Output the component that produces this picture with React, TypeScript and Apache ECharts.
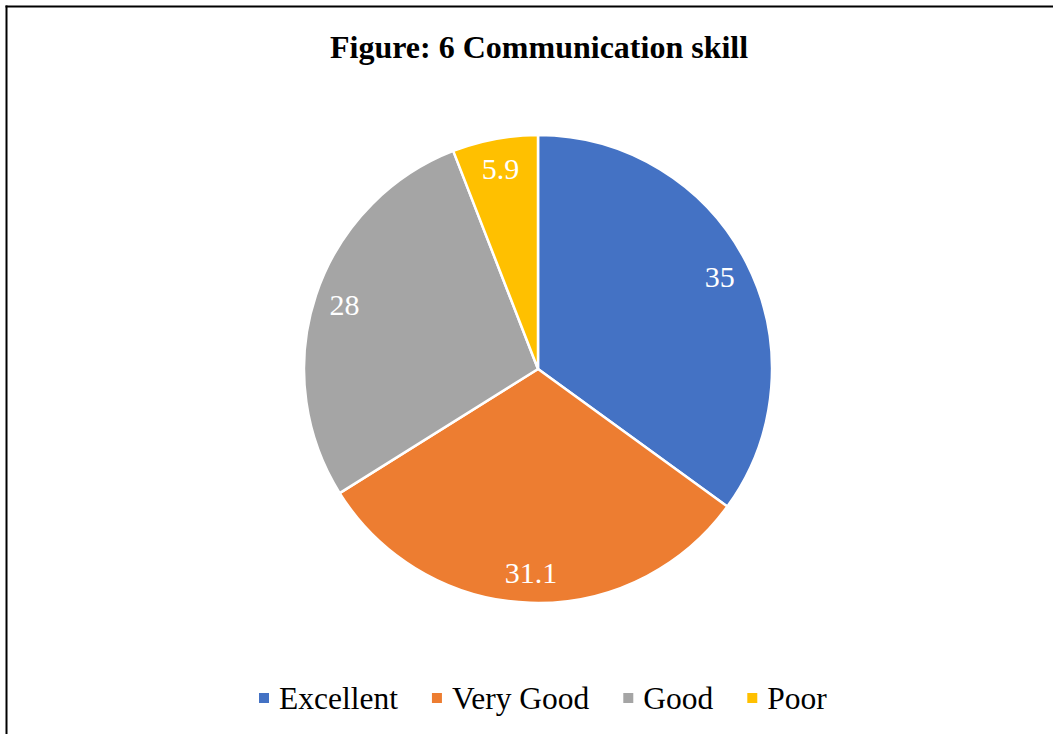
import React, { useEffect, useRef } from "react";
import * as echarts from "echarts";

const categories = ["Excellent", "Very Good", "Good", "Poor"];
const values = [35, 31.1, 28, 5.9];
const colors = ["#4472C4", "#ED7D31", "#A5A5A5", "#FFC000"];
const titleText = "Figure: 6 Communication skill";

const FONT = "Liberation Serif";

export default function App() {
  const ref = useRef<HTMLDivElement>(null);
  useEffect(() => {
    document.body.style.margin = "0";
    if (!ref.current) return;
    const chart = echarts.init(ref.current, undefined, { renderer: "svg" });
    const data = categories.map((name, i) => ({
      name,
      value: values[i],
      itemStyle: { color: colors[i] },
    }));
    chart.setOption({
      animation: false,
      backgroundColor: "#ffffff",
      textStyle: { fontFamily: FONT },
      title: {
        text: titleText,
        left: 325,
        top: 26,
        textStyle: {
          fontFamily: FONT,
          fontWeight: "bold",
          fontSize: 32,
          color: "#000000",
        },
      },
      legend: {
        data: categories,
        left: 252,
        top: 677,
        icon: "rect",
        itemWidth: 12,
        itemHeight: 12,
        itemGap: 32,
        textStyle: {
          fontFamily: FONT,
          fontSize: 31.5,
          color: "#000000",
          padding: [0, 0, 0, 4],
        },
      },
      graphic: [
        {
          type: "line",
          shape: { x1: 5.5, y1: 6.5, x2: 1053, y2: 6.5 },
          style: { stroke: "#000000", lineWidth: 2 },
        },
        {
          type: "line",
          shape: { x1: 6.5, y1: 5.5, x2: 6.5, y2: 734 },
          style: { stroke: "#000000", lineWidth: 2 },
        },
      ],
      series: [
        {
          type: "pie",
          center: [538, 369],
          radius: [0, 234],
          startAngle: 90,
          clockwise: true,
          silent: true,
          label: { show: false },
          labelLine: { show: false },
          itemStyle: { borderColor: "#ffffff", borderWidth: 2.5 },
          data,
        },
        {
          type: "pie",
          center: [538, 369],
          radius: [168, 234],
          startAngle: 90,
          clockwise: true,
          silent: true,
          itemStyle: { color: "rgba(0,0,0,0)", borderWidth: 0 },
          label: {
            show: true,
            position: "inside",
            formatter: "{c}",
            fontFamily: FONT,
            fontSize: 30,
            color: "#ffffff",
          },
          labelLine: { show: false },
          data: categories.map((name, i) => ({
            name,
            value: values[i],
            itemStyle: { color: "rgba(0,0,0,0)" },
          })),
        },
      ],
    });
    return () => chart.dispose();
  }, []);
  return <div ref={ref} style={{ width: 1053, height: 734 }} />;
}
